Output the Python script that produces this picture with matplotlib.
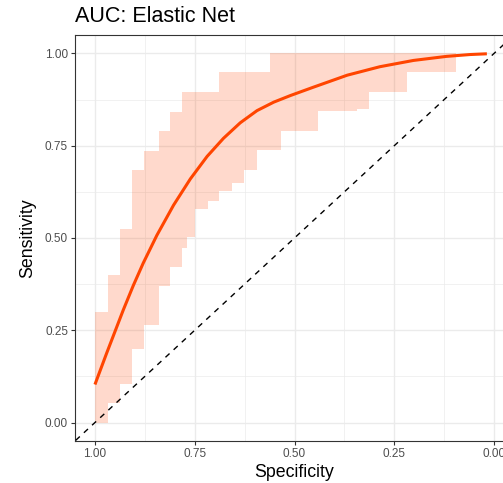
import numpy as np
import matplotlib
matplotlib.use("Agg")
import matplotlib.pyplot as plt
from matplotlib.ticker import MultipleLocator

# ROC curve (smoothed) for the elastic net model
curve_spec = [1.000, 0.971, 0.929, 0.904, 0.879, 0.845, 0.803, 0.761, 0.719, 0.678,
              0.636, 0.594, 0.552, 0.510, 0.454, 0.368, 0.286, 0.202, 0.119, 0.060,
              0.018]
curve_sens = [0.103, 0.187, 0.305, 0.371, 0.432, 0.507, 0.589, 0.660, 0.721, 0.770,
              0.812, 0.845, 0.868, 0.886, 0.908, 0.941, 0.964, 0.981, 0.992, 0.997,
              0.999]

# Confidence band for sensitivity (step shaped)
ci_spec = [1.000, 0.967, 0.936, 0.908, 0.877, 0.840, 0.811, 0.781, 0.770, 0.750, 0.718,
           0.688, 0.657, 0.627, 0.594, 0.561, 0.533, 0.441, 0.343, 0.313, 0.218, 0.095]
ci_lower = [0.000, 0.054, 0.105, 0.200, 0.263, 0.369, 0.421, 0.473, 0.502, 0.579, 0.600,
            0.626, 0.649, 0.684, 0.737, 0.737, 0.791, 0.844, 0.850, 0.896, 0.950, 0.950]
ci_upper = [0.299, 0.399, 0.525, 0.685, 0.735, 0.789, 0.842, 0.895, 0.895, 0.895, 0.895,
            0.950, 0.950, 0.950, 0.950, 1.000, 1.000, 1.000, 1.000, 1.000, 1.000, 1.000]

ticks = [1.00, 0.75, 0.50, 0.25, 0.00]
tick_labels = ["1.00", "0.75", "0.50", "0.25", "0.00"]

line_col = "#FF4500"

plt.rcParams['font.family'] = ['Liberation Sans', 'DejaVu Sans']

fig = plt.figure(figsize=(5.03, 4.83), dpi=100)
# panel runs off the right edge of the picture, like the original
ax = fig.add_axes([0.1491, 0.087, 0.8728, 0.8406])

# band first, then diagonal, then curve
ax.fill_between(ci_spec, ci_lower, ci_upper, step='post', color=line_col,
                alpha=0.2, linewidth=0, zorder=2)
ax.axline((1, 0), (0, 1), color="black", linewidth=1.0, linestyle=(0, (4, 4)), zorder=3)
ax.plot(curve_spec, curve_sens, color=line_col, linewidth=2.2, solid_capstyle='butt',
        solid_joinstyle='round', zorder=4)

# reversed specificity axis
ax.set_xlim(1.05, -0.05)
ax.set_ylim(-0.05, 1.05)

ax.set_xticks(ticks)
ax.set_xticklabels(tick_labels)
ax.set_yticks(ticks)
ax.set_yticklabels(tick_labels)
ax.xaxis.set_minor_locator(MultipleLocator(0.125))
ax.yaxis.set_minor_locator(MultipleLocator(0.125))

# theme_bw look
ax.grid(which='major', color="#EBEBEB", linewidth=1.0, zorder=0)
ax.grid(which='minor', color="#EBEBEB", linewidth=0.5, zorder=0)
ax.set_axisbelow(True)
for s in ax.spines.values():
    s.set_color("#333333")
    s.set_linewidth(0.8)
ax.tick_params(which='major', length=3, width=0.8, color="#333333",
               labelsize=8.5, labelcolor="#4D4D4D", pad=2)
ax.tick_params(which='minor', length=0)

ax.set_xlabel("Specificity", fontsize=12.8, labelpad=3)
ax.set_ylabel("Sensitivity", fontsize=12.8, labelpad=6)
ax.set_title("AUC: Elastic Net", loc='left', fontsize=15.5, pad=9.5)

fig.savefig("out.png", dpi=100)
